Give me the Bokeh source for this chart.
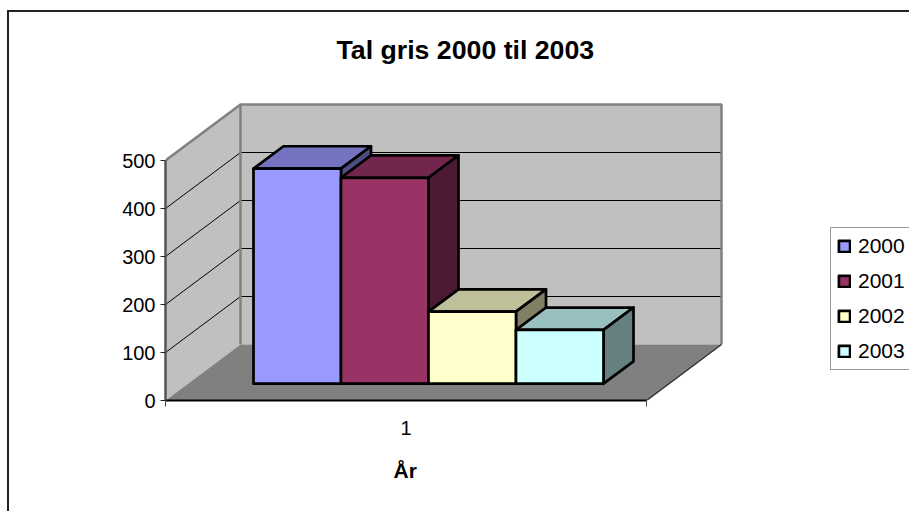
from bokeh.embed import file_html
from bokeh.resources import INLINE
from bokeh.plotting import figure
from bokeh.models import (Range1d, FixedTicker, Title, Legend, LegendItem, InlineStyleSheet)

FONT = "Liberation Sans"
title_text = "Tal gris 2000 til 2003"
axis_title = "År"
category_label = "1"
years = ["2000", "2001", "2002", "2003"]
values = [448, 429, 150, 112]
front_colors = ["#9999FF", "#993366", "#FFFFCC", "#CCFFFF"]
top_colors = ["#7373BF", "#73264D", "#BFBF99", "#99BFBF"]
side_colors = ["#4D4D80", "#4D1A33", "#808066", "#668080"]
value_ticks = [0, 100, 200, 300, 400, 500]
grid_values = [100, 200, 300, 400]

VMAX = 500
DX, DY = 75 / 481, 56 / 0.48      # oblique depth offset of the box, in data units
GROUP = 350 / 481                 # share of category width used by the bars
Z0, Z1 = 0.30, 0.70               # bar depth inside the box

def proj(x, v, z):
    return x + z * DX, v + z * DY

def poly(*pts):
    p3 = [proj(*q) for q in pts]
    return [a for a, _ in p3], [b for _, b in p3]

p = figure(width=909, height=511, output_backend="svg", toolbar_location=None,
           x_range=Range1d(0, 744 / 481), y_range=Range1d(0, 330 / 0.48),
           min_border_left=165, min_border_right=0, min_border_top=70, min_border_bottom=111,
           background_fill_color="white", border_fill_color="white", outline_line_color=None)
p.grid.visible = False

# Walls and floor
WALL, FLOOR, EDGE = "#C0C0C0", "#808080", "#808080"
xs, ys = poly((0, 0, 0), (0, VMAX, 0), (0, VMAX, 1), (0, 0, 1))
p.patch(xs, ys, fill_color=WALL, line_color=None)
xs, ys = poly((0, 0, 1), (0, VMAX, 1), (1, VMAX, 1), (1, 0, 1))
p.patch(xs, ys, fill_color=WALL, line_color=None)
xs, ys = poly((0, 0, 0), (1, 0, 0), (1, 0, 1), (0, 0, 1))
p.patch(xs, ys, fill_color=FLOOR, line_color=None)

for v in grid_values:
    xs, ys = poly((0, v, 0), (0, v, 1), (1, v, 1))
    p.line(xs, ys, line_color="black", line_width=1)

xs, ys = poly((0, VMAX, 0), (0, VMAX, 1), (1, VMAX, 1), (1, 0, 1))
p.line(xs, ys, line_color=EDGE, line_width=2.5)
xs, ys = poly((0, VMAX, 1), (0, 0, 1))
p.line(xs, ys, line_color=EDGE, line_width=2.5)
xs, ys = poly((1, 0, 0), (1, 0, 1))
p.line(xs, ys, line_color="#333333", line_width=1.5)

# Bars
n = len(values)
bw = GROUP / n
x0 = 0.5 - GROUP / 2
items = []
for i, (yr, v) in enumerate(zip(years, values)):
    a, b = x0 + i * bw, x0 + (i + 1) * bw
    style = dict(line_color="black", line_width=2.7, line_join="round")
    xs, ys = poly((a, v, Z0), (a, v, Z1), (b, v, Z1), (b, v, Z0))
    p.patch(xs, ys, fill_color=top_colors[i], **style)
    xs, ys = poly((b, 0, Z0), (b, v, Z0), (b, v, Z1), (b, 0, Z1))
    p.patch(xs, ys, fill_color=side_colors[i], **style)
    (l, bot), (r, top) = proj(a, 0, Z0), proj(b, v, Z0)
    q = p.quad(left=l, right=r, bottom=bot, top=top, fill_color=front_colors[i], **style)
    items.append(LegendItem(label=yr, renderers=[q]))

# Axes
yax = p.yaxis[0]
yax.ticker = FixedTicker(ticks=value_ticks)
yax.bounds = (0, VMAX)
yax.axis_line_color = "#555555"
yax.axis_line_width = 2.5
yax.major_tick_in = 0
yax.major_tick_out = 5
yax.major_tick_line_color = "#222222"
yax.major_tick_line_width = 1
yax.minor_tick_line_color = None
yax.major_label_text_font = FONT
yax.major_label_text_font_size = "20px"
yax.major_label_text_color = "black"
yax.major_label_standoff = 5

xax = p.xaxis[0]
xax.ticker = FixedTicker(ticks=[0.5], minor_ticks=[0, 1])
xax.major_label_overrides = {0.5: category_label}
xax.bounds = (0, 1)
xax.axis_line_color = "black"
xax.axis_line_width = 2
xax.major_tick_line_color = None
xax.minor_tick_in = 0
xax.minor_tick_out = 6
xax.minor_tick_line_color = "#444444"
xax.minor_tick_line_width = 1
xax.major_label_text_font = FONT
xax.major_label_text_font_size = "20px"
xax.major_label_text_color = "black"
xax.major_label_standoff = 14

# Category-axis title, below the axis panel
p.add_layout(Title(text=axis_title, align="left", offset=228, text_font=FONT,
                   text_font_size="21px", text_font_style="bold", text_color="black", standoff=39), "below")

# Title
p.title = Title(text=title_text, align="left", offset=171, text_font=FONT,
                text_font_size="26.7px", text_font_style="bold", text_color="black", standoff=12)

# Legend
leg = Legend(items=items, location=(665, 30), margin=0, padding=6, spacing=11,
             glyph_width=14, glyph_height=14, label_standoff=7,
             label_text_font=FONT, label_text_font_size="21px", label_text_color="black",
             border_line_color="#333333", border_line_width=1, background_fill_color="white",
             background_fill_alpha=1)
p.add_layout(leg, "center")

# Chart-area border
p.stylesheets = [InlineStyleSheet(css=""":host::after {
  content: ""; position: absolute; left: 7px; top: 10px; width: 1000px; height: 1000px;
  border-left: 2px solid #222; border-top: 2px solid #222; pointer-events: none;
}
:host { overflow: hidden; }""")]

open("out.html", "w").write(file_html(p, INLINE))
